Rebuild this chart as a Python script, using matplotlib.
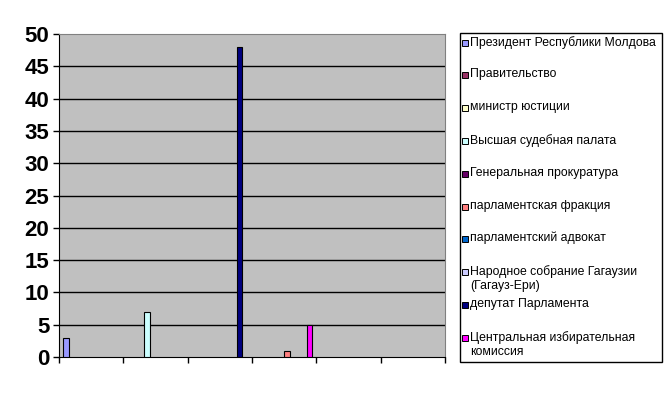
import numpy as np
import matplotlib.pyplot as plt
from matplotlib.patches import Rectangle

plt.rcParams['font.family'] = ['Liberation Sans', 'DejaVu Sans']

# series (legend) names and Excel-2003 colours
series = ['Президент Республики Молдова', 'Правительство', 'министр юстиции',
          'Высшая судебная палата', 'Генеральная прокуратура',
          'парламентская фракция', 'парламентский адвокат',
          'Народное собрание Гагаузии\n(Гагауз-Ери)', 'депутат Парламента',
          'Центральная избирательная\nкомиссия']
colors = ['#9999FF', '#993366', '#FFFFCC', '#CCFFFF', '#660066',
          '#FF8080', '#0066CC', '#CCCCFF', '#000080', '#FF00FF']

# values per category (6 unlabeled categories)
prezident = [3, 0, 0, 0, 0, 0]
pravitelstvo = [0, 0, 0, 0, 0, 0]
ministr = [0, 0, 0, 0, 0, 0]
vsp = [0, 7, 0, 0, 0, 0]
prokuratura = [0, 0, 0, 0, 0, 0]
frakcia = [0, 0, 0, 1, 0, 0]
advokat = [0, 0, 0, 0, 0, 0]
gagauzia = [0, 0, 0, 0, 0, 0]
deputat = [0, 0, 48, 0, 0, 0]
cik = [0, 0, 0, 5, 0, 0]
values = [prezident, pravitelstvo, ministr, vsp, prokuratura,
          frakcia, advokat, gagauzia, deputat, cik]
ncat = 6

W, H = 672, 394
fig = plt.figure(figsize=(W / 100, H / 100), dpi=100)
ax = fig.add_axes([59 / W, 37 / H, (445 - 59) / W, (357 - 34) / H])
ax.set_facecolor('#C0C0C0')

nser = len(series)
w = 1 / (nser + 1.5)
x = np.arange(ncat)
for i in range(nser):
    v = np.array(values[i])
    mask = v > 0
    ax.bar(x[mask] + 0.75 * w + i * w, v[mask], width=w, align='edge',
           color=colors[i], edgecolor='black', linewidth=0.8, zorder=3)

ax.set_xlim(0, ncat)
ax.set_ylim(0, 50)
ax.set_yticks(range(0, 51, 5))
ax.set_xticks(range(ncat + 1))
ax.set_xticklabels([])
for t in range(5, 50, 5):
    ax.axhline(t, color='black', linewidth=1, zorder=1)
for lab in ax.get_yticklabels():
    lab.set_fontsize(16)
    lab.set_fontweight('bold')
ax.tick_params(axis='y', length=4, width=1, pad=3)
ax.tick_params(axis='x', length=4, width=1)
ax.spines['top'].set_color('#808080')
ax.spines['right'].set_color('#808080')
ax.spines['left'].set_color('black')
ax.spines['bottom'].set_color('black')

# legend drawn by hand to keep Excel spacing
fig.patches.append(Rectangle((460 / W, 1 - 362 / H), (662 - 460) / W, (362 - 33) / H,
                             transform=fig.transFigure, facecolor='white',
                             edgecolor='black', linewidth=1))
ys = [43, 75, 108, 141, 174, 207, 239, 272, 305, 338]
for i in range(nser):
    yc = ys[i]
    fig.patches.append(Rectangle((462 / W, 1 - (yc + 3) / H), 6 / W, 6 / H,
                                 transform=fig.transFigure, facecolor=colors[i],
                                 edgecolor='black', linewidth=0.7))
    fig.text(470 / W, 1 - (yc - 7) / H, series[i], fontsize=8.8, va='top',
             ha='left', linespacing=1.22)

fig.savefig('out.png', dpi=100)
